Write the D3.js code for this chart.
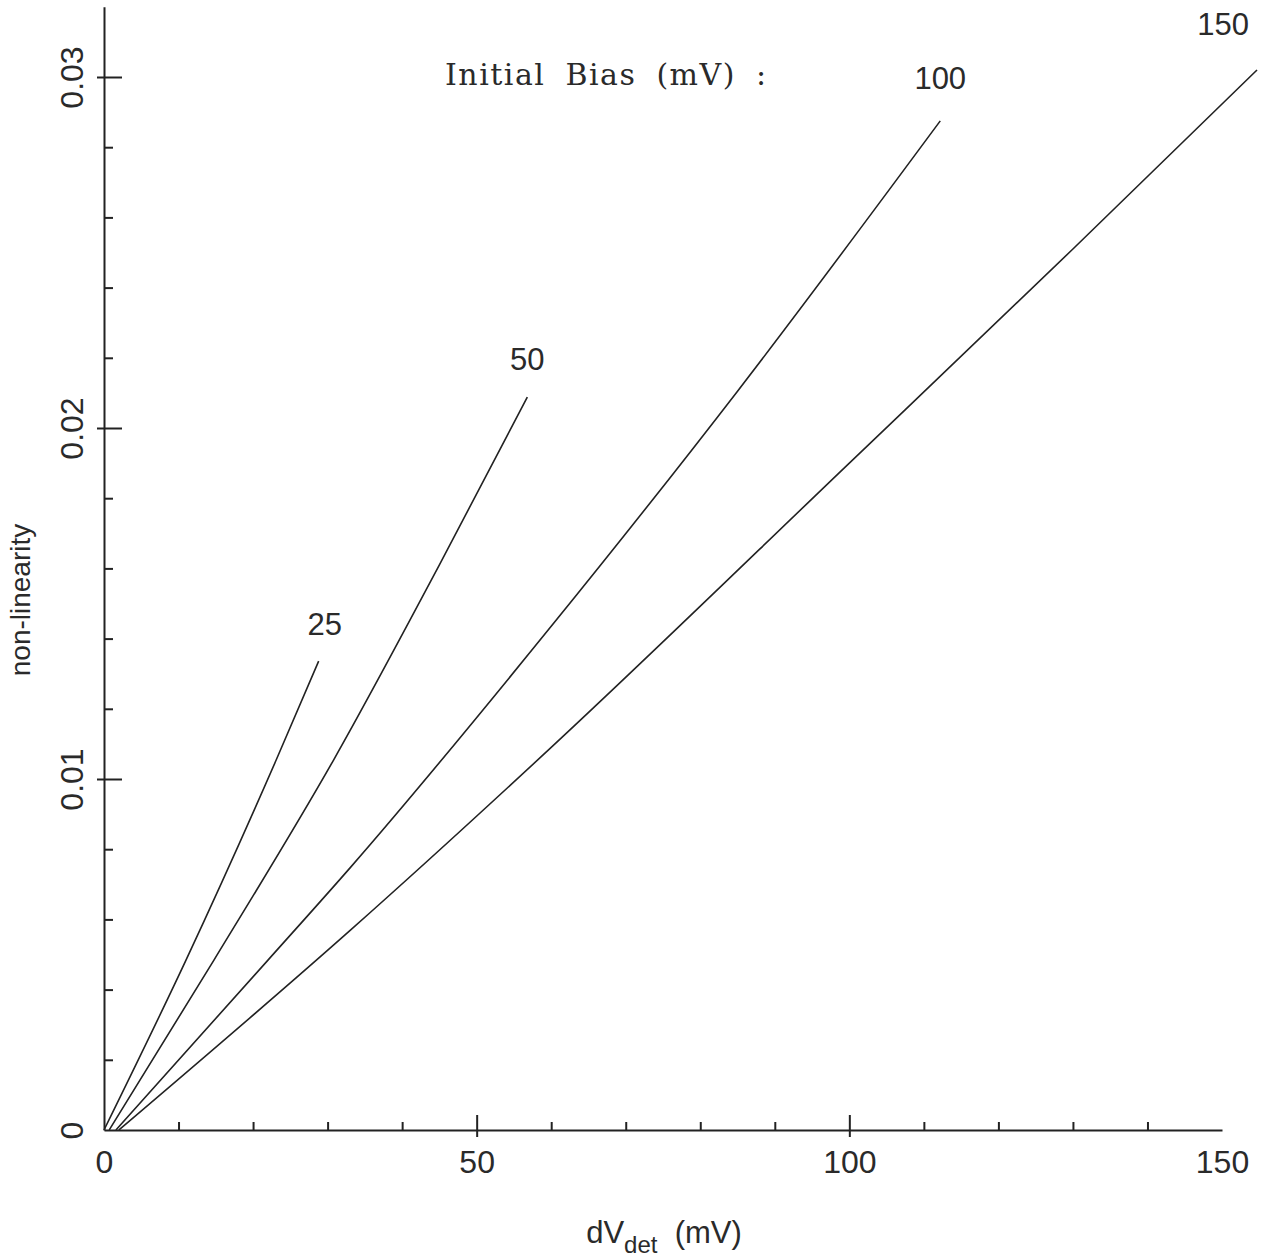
<!DOCTYPE html>
<html>
<head>
<meta charset="utf-8">
<script src="https://cdn.jsdelivr.net/npm/d3@7"></script>
<style>
  body { margin: 0; background: #fff; }
  svg { display: block; }
  .lbl { font-family: "Liberation Sans", Arial, sans-serif; fill: #2a2a2a; }
</style>
</head>
<body>
<div id="chart"></div>
<script>
// curves: [dV_det (mV), non-linearity] for each initial bias
const biasLevels = [25, 50, 100, 150];
const curve25 = [[0, 0], [11, 0.00484], [23.1, 0.01054], [28.8, 0.01336]];
const curve50 = [[0.7, 0], [14.75, 0.00484], [30.8, 0.01054], [45, 0.0161], [56.8, 0.02088]];
const curve100 = [[1.6, 0], [22, 0.00484], [33.1, 0.00749], [60, 0.01435], [85, 0.02105], [112.2, 0.02875]];
const curve150 = [[2, 0], [33.1, 0.0057], [60, 0.0109], [100, 0.019], [130, 0.0251], [154.7, 0.0302]];
const curves = [curve25, curve50, curve100, curve150];

const xMajor = [0, 50, 100, 150];
const xMinor = [10, 20, 30, 40, 60, 70, 80, 90, 110, 120, 130, 140];
const yMajor = [0, 0.01, 0.02, 0.03];
const yMinor = [0.002, 0.004, 0.006, 0.008, 0.012, 0.014, 0.016, 0.018, 0.022, 0.024, 0.026, 0.028];

const width = 1270, height = 1258;
const ink = '#222';

const svg = d3.select('#chart')
    .append('svg')
    .attr('width', width)
    .attr('height', height);

const x = d3.scaleLinear().domain([0, 150]).range([104, 1222]);
const y = d3.scaleLinear().domain([0, 0.032]).range([1130, 6.8]);

// x axis: line, inward minor ticks, crossing major ticks, labels
const xg = svg.append('g').attr('transform', `translate(0,${y(0)})`);
xg.call(d3.axisBottom(x).tickValues(xMinor).tickSize(-8).tickFormat('').tickSizeOuter(0));
xg.append('g').call(d3.axisBottom(x).tickValues([50, 100]).tickSize(-15).tickFormat('').tickSizeOuter(0));
xg.append('g').call(d3.axisBottom(x).tickValues([50, 100]).tickSize(7).tickFormat('').tickSizeOuter(0));
const xl = xg.append('g').call(d3.axisBottom(x).tickValues(xMajor).tickSize(0).tickFormat(d3.format('d')));
xl.selectAll('text').attr('y', 43).attr('dy', 0)
    .attr('class', 'lbl').style('font-size', '32px');
xg.selectAll('path.domain').attr('stroke', ink).attr('stroke-width', 2);
xg.selectAll('.tick line').attr('stroke', ink).attr('stroke-width', 2);
xg.selectAll('path.domain').filter((d, i) => i > 0).remove();

// y axis
const yg = svg.append('g').attr('transform', `translate(${x(0)},0)`);
yg.call(d3.axisLeft(y).tickValues(yMinor).tickSize(-9).tickFormat('').tickSizeOuter(0));
yg.append('g').call(d3.axisLeft(y).tickValues([0.01, 0.02, 0.03]).tickSize(-18).tickFormat('').tickSizeOuter(0));
yg.append('g').call(d3.axisLeft(y).tickValues([0.01, 0.02, 0.03]).tickSize(7).tickFormat('').tickSizeOuter(0));
const yl = yg.append('g').call(d3.axisLeft(y).tickValues(yMajor).tickSize(0).tickFormat(d => d === 0 ? '0' : d3.format('.2f')(d)));
yl.selectAll('text')
    .attr('transform', 'rotate(-90)')
    .attr('x', 0).attr('y', -21).attr('dy', 0)
    .attr('text-anchor', 'middle')
    .attr('class', 'lbl').style('font-size', '32px');
yg.selectAll('.tick line').attr('stroke', ink).attr('stroke-width', 2);
yg.selectAll('path.domain').attr('stroke', ink).attr('stroke-width', 2);
yg.selectAll('g g path.domain').remove();
yl.selectAll('path.domain').remove();

// curves
const line = d3.line().x(d => x(d[0])).y(d => y(d[1])).curve(d3.curveMonotoneX);
svg.append('g')
    .selectAll('path')
    .data(curves)
    .enter()
    .append('path')
    .attr('d', line)
    .attr('fill', 'none')
    .attr('stroke', ink)
    .attr('stroke-width', 1.6);

// bias labels near curve ends
const labelShift = [[6, -26], [0, -27], [0, -32], [-34, -35]];
svg.append('g')
    .selectAll('text')
    .data(biasLevels)
    .enter()
    .append('text')
    .attr('class', 'lbl')
    .style('font-size', '31px')
    .attr('text-anchor', 'middle')
    .attr('x', (d, i) => x(curves[i][curves[i].length - 1][0]) + labelShift[i][0])
    .attr('y', (d, i) => y(curves[i][curves[i].length - 1][1]) + labelShift[i][1])
    .text(d => d);

svg.append('text')
    .attr('x', 445)
    .attr('y', 85)
    .style('font-family', '"DejaVu Serif", "Liberation Serif", serif')
    .style('font-size', '30px')
    .style('letter-spacing', '1.5px')
    .style('word-spacing', '9px')
    .attr('fill', '#2a2a2a')
    .text('Initial Bias (mV) :');

// axis titles
const xt = svg.append('text')
    .attr('class', 'lbl')
    .attr('x', 664)
    .attr('y', 1243)
    .attr('text-anchor', 'middle')
    .style('font-size', '31px');
xt.append('tspan').text('dV');
xt.append('tspan').attr('dy', 10).style('font-size', '24px').text('det');
xt.append('tspan').attr('dy', -10).text('\u00a0 (mV)');

svg.append('text')
    .attr('class', 'lbl')
    .attr('transform', 'translate(30,600) rotate(-90)')
    .attr('text-anchor', 'middle')
    .style('font-size', '28px')
    .text('non-linearity');
</script>
</body>
</html>
